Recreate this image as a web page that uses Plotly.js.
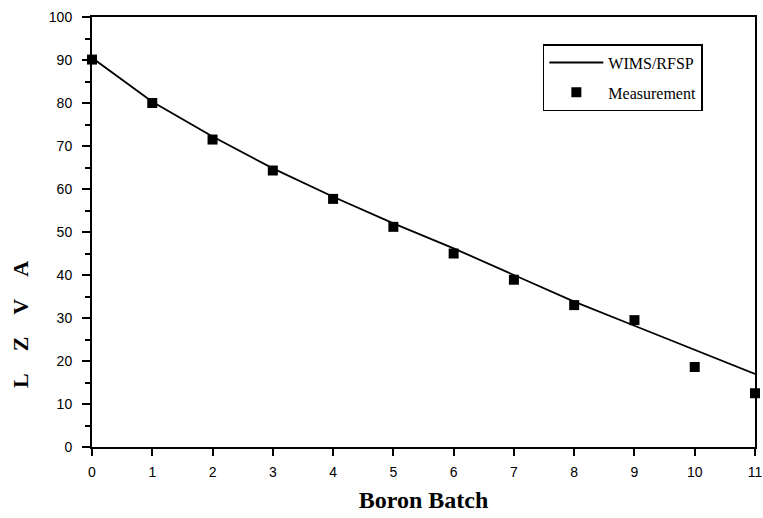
<!DOCTYPE html>
<html>
<head>
<meta charset="utf-8">
<script src="https://cdn.plot.ly/plotly-3.0.1.min.js"></script>
<style>html,body{margin:0;padding:0;background:#fff;}#chart{width:763px;height:518px;}</style>
</head>
<body>
<div id="chart"></div>
<script>
const batches = [0, 1, 2, 3, 4, 5, 6, 7, 8, 9, 10, 11];
const wimsRfsp = [90.5, 80.3, 72.2, 64.8, 58.2, 52.0, 46.2, 40.0, 33.8, 28.2, 22.6, 17.0];
const measurement = [90.1, 80.0, 71.5, 64.3, 57.7, 51.2, 45.0, 38.9, 33.0, 29.5, 18.6, 12.5];
const xTicks = [0, 1, 2, 3, 4, 5, 6, 7, 8, 9, 10, 11];
const yTicks = [0, 10, 20, 30, 40, 50, 60, 70, 80, 90, 100];
const yTitleLetters = ['L', 'Z', 'V', 'A'];

const serif = 'Liberation Serif, Times New Roman, serif';
const sans = 'Liberation Sans, Arial, sans-serif';

const traces = [
  {x: batches, y: wimsRfsp, name: 'WIMS/RFSP', legendgroup: 'g1', mode: 'lines', type: 'scatter',
   line: {color: '#000', width: 1.8}, cliponaxis: false},
  {x: batches, y: measurement, name: 'Measurement', legendgroup: 'g2', mode: 'markers', type: 'scatter',
   marker: {symbol: 'square', size: 10, color: '#000'}, cliponaxis: false}
];

const sp = '\u00a0\u00a0\u00a0\u00a0';
const layout = {
  width: 763, height: 518,
  margin: {l: 92, r: 8, t: 17, b: 71},
  paper_bgcolor: '#fff', plot_bgcolor: '#fff',
  showlegend: true,
  legend: {x: 0.68, y: 0.937, xanchor: 'left', yanchor: 'top',
    bordercolor: '#000', borderwidth: 1.5, bgcolor: '#fff',
    font: {family: serif, size: 16, color: '#000'},
    tracegroupgap: 6, itemwidth: 54},
  xaxis: {range: [0, 11], tickvals: xTicks, ticktext: xTicks.map(String),
    showgrid: false, zeroline: false, showline: true, linecolor: '#000', linewidth: 2,
    mirror: true, ticks: 'outside', ticklen: 7, tickwidth: 2, tickcolor: '#000',
    ticklabelstandoff: 4,
    tickfont: {family: sans, size: 14, color: '#000'},
    title: {text: 'Boron Batch', standoff: 12,
      font: {family: serif, size: 24, color: '#000', weight: 'bold'}}},
  yaxis: {range: [0, 100], tickvals: yTicks, ticktext: yTicks.map(String),
    showgrid: false, zeroline: false, showline: true, linecolor: '#000', linewidth: 2,
    mirror: true, ticks: 'outside', ticklen: 8, tickwidth: 2, tickcolor: '#000',
    ticklabelstandoff: 7,
    minor: {dtick: 5, ticks: 'outside', ticklen: 5, tickwidth: 2, tickcolor: '#000', showgrid: false},
    tickfont: {family: sans, size: 14, color: '#000'}},
  annotations: [{
    text: yTitleLetters.join(sp), textangle: -90, showarrow: false,
    xref: 'paper', yref: 'paper', x: -0.1086, y: 0.286, xanchor: 'center', yanchor: 'middle',
    font: {family: serif, size: 22, color: '#000', weight: 'bold'}
  }]
};

Plotly.newPlot('chart', traces, layout, {displayModeBar: false, staticPlot: true});
</script>
</body>
</html>
